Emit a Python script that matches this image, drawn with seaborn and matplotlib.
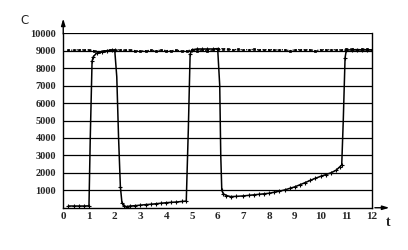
import matplotlib
matplotlib.use("Agg")
import matplotlib.pyplot as plt
import seaborn as sns
import pandas as pd

# Solid curve (concentration with sharp transitions)
t_solid = [0.2, 0.4, 0.6, 0.8, 1.0, 1.05, 1.12, 1.17, 1.3, 1.5, 1.7, 1.9, 2.0,
           2.08, 2.15, 2.22, 2.28, 2.36, 2.46, 2.6, 2.8, 3.0, 3.2, 3.4, 3.6, 3.8,
           4.0, 4.2, 4.4, 4.6, 4.78, 4.86, 4.93, 5.0, 5.2, 5.4, 5.6, 5.8, 6.0,
           6.08, 6.12, 6.16, 6.22, 6.34, 6.5, 6.7, 7.0, 7.2, 7.4, 7.6, 7.8, 8.0,
           8.2, 8.4, 8.6, 8.8, 9.0, 9.2, 9.4, 9.6, 9.8, 10.0, 10.2, 10.4, 10.6,
           10.75, 10.82, 10.88, 10.95, 11.0, 11.2, 11.4, 11.6, 11.8, 12.0]
c_solid = [100, 100, 100, 100, 110, 4000, 8400, 8660, 8870, 8950, 9000, 9040, 9050,
           7500, 4000, 1200, 300, 120, 60, 100, 120, 150, 180, 200, 230, 260,
           290, 310, 330, 360, 380, 4500, 8800, 9050, 9100, 9100, 9100, 9100, 9120,
           7000, 3000, 1000, 800, 700, 640, 650, 680, 710, 740, 770, 800, 830,
           890, 950, 1020, 1110, 1200, 1320, 1440, 1570, 1690, 1800, 1900, 2000, 2150,
           2350, 2450, 5000, 8600, 9040, 9050, 9060, 9050, 9060, 9050]

# Dotted series around 9000
t_dot = [0.2, 0.4, 0.6, 0.8, 1.0, 1.2, 1.4, 1.6, 1.8, 2.0, 2.2, 2.4, 2.6, 2.8,
         3.0, 3.2, 3.4, 3.6, 3.8, 4.0, 4.2, 4.4, 4.6, 4.8, 5.0, 5.2, 5.4, 5.6,
         5.8, 6.0, 6.2, 6.4, 6.6, 6.8, 7.0, 7.2, 7.4, 7.6, 7.8, 8.0, 8.2, 8.4,
         8.6, 8.8, 9.0, 9.2, 9.4, 9.6, 9.8, 10.0, 10.2, 10.4, 10.6, 10.8, 11.0,
         11.2, 11.4, 11.6, 11.8, 12.0]
c_dot = [9050, 9020, 9060, 9040, 9050, 9000, 8950, 8990, 9030, 9040, 9060, 9020,
         9050, 9000, 8980, 9000, 9020, 9000, 9030, 9010, 9000, 9030, 8980, 9000,
         9040, 9000, 9020, 8990, 9030, 9100, 9120, 9080, 9060, 9070, 9050, 9060,
         9070, 9050, 9060, 9060, 9050, 9040, 9060, 9000, 9050, 9060, 9050, 9060,
         9000, 9050, 9060, 9050, 9060, 9040, 9080, 9100, 9060, 9080, 9070, 9050]

y_ticks = [1000, 2000, 3000, 4000, 5000, 6000, 7000, 8000, 9000, 10000]
x_ticks = list(range(0, 13))

df_s = pd.DataFrame({"t": t_solid, "c": c_solid})
df_d = pd.DataFrame({"t": t_dot, "c": c_dot})

# markers only on the slowly varying parts, not on the steep transitions
steep = {i for i in range(1, len(c_solid) - 1)
         if abs(c_solid[i] - c_solid[i - 1]) > 1500 and abs(c_solid[i + 1] - c_solid[i]) > 1500}
mark_idx = [i for i in range(len(c_solid)) if i not in steep]

sns.set_style("white")
plt.rcParams["font.family"] = ["Liberation Serif", "DejaVu Serif"]

fig = plt.figure(figsize=(4.08, 2.5), dpi=100)
ax = fig.add_axes([0.155, 0.169, 0.757, 0.698])

for y in y_ticks:
    ax.axhline(y, color="black", lw=0.9, zorder=1)

sns.lineplot(data=df_d, x="t", y="c", ax=ax, color="black", lw=0.9,
             linestyle=(0, (1, 1.2)), marker="s", markersize=2.0,
             markeredgewidth=0.5, mec="black", mfc="black",
             estimator=None, sort=False, zorder=3)
sns.lineplot(data=df_s, x="t", y="c", ax=ax, color="black", lw=1.1,
             marker="+", markersize=3.2, markeredgewidth=0.8, mec="black",
             markevery=mark_idx, estimator=None, sort=False, zorder=4)

ax.set_xlim(0, 12)
ax.set_ylim(0, 10000)
ax.set_xticks(x_ticks)
ax.set_yticks(y_ticks)
ax.set_xticklabels([str(v) for v in x_ticks], fontsize=8, fontweight="bold")
ax.set_yticklabels([str(v) for v in y_ticks], fontsize=7.5, fontweight="bold")
ax.tick_params(axis="x", direction="in", length=3, width=0.8, pad=3, color="black")
ax.tick_params(axis="y", length=0, pad=5)
ax.set_xlabel("")
ax.set_ylabel("")

for s in ["left", "bottom", "right"]:
    ax.spines[s].set_visible(True)
    ax.spines[s].set_color("black")
    ax.spines[s].set_linewidth(1.0)
ax.spines["top"].set_visible(False)

ax.annotate("", xy=(0, 1.1), xytext=(0, 0.98), xycoords="axes fraction",
            arrowprops=dict(arrowstyle="-|>,head_length=0.4,head_width=0.12",
                            color="black", lw=1.0), annotation_clip=False)
ax.annotate("", xy=(1.065, 0), xytext=(1.0, 0), xycoords="axes fraction",
            arrowprops=dict(arrowstyle="-|>,head_length=0.4,head_width=0.12",
                            color="black", lw=1.0), annotation_clip=False)

ax.text(-0.125, 1.075, "C", transform=ax.transAxes, fontsize=8.5,
        family=["DejaVu Sans"], ha="center", va="center")
ax.text(1.052, -0.085, "t", transform=ax.transAxes, fontsize=10,
        fontweight="bold", ha="center", va="center")

fig.savefig("out.png", dpi=100, facecolor="white")
